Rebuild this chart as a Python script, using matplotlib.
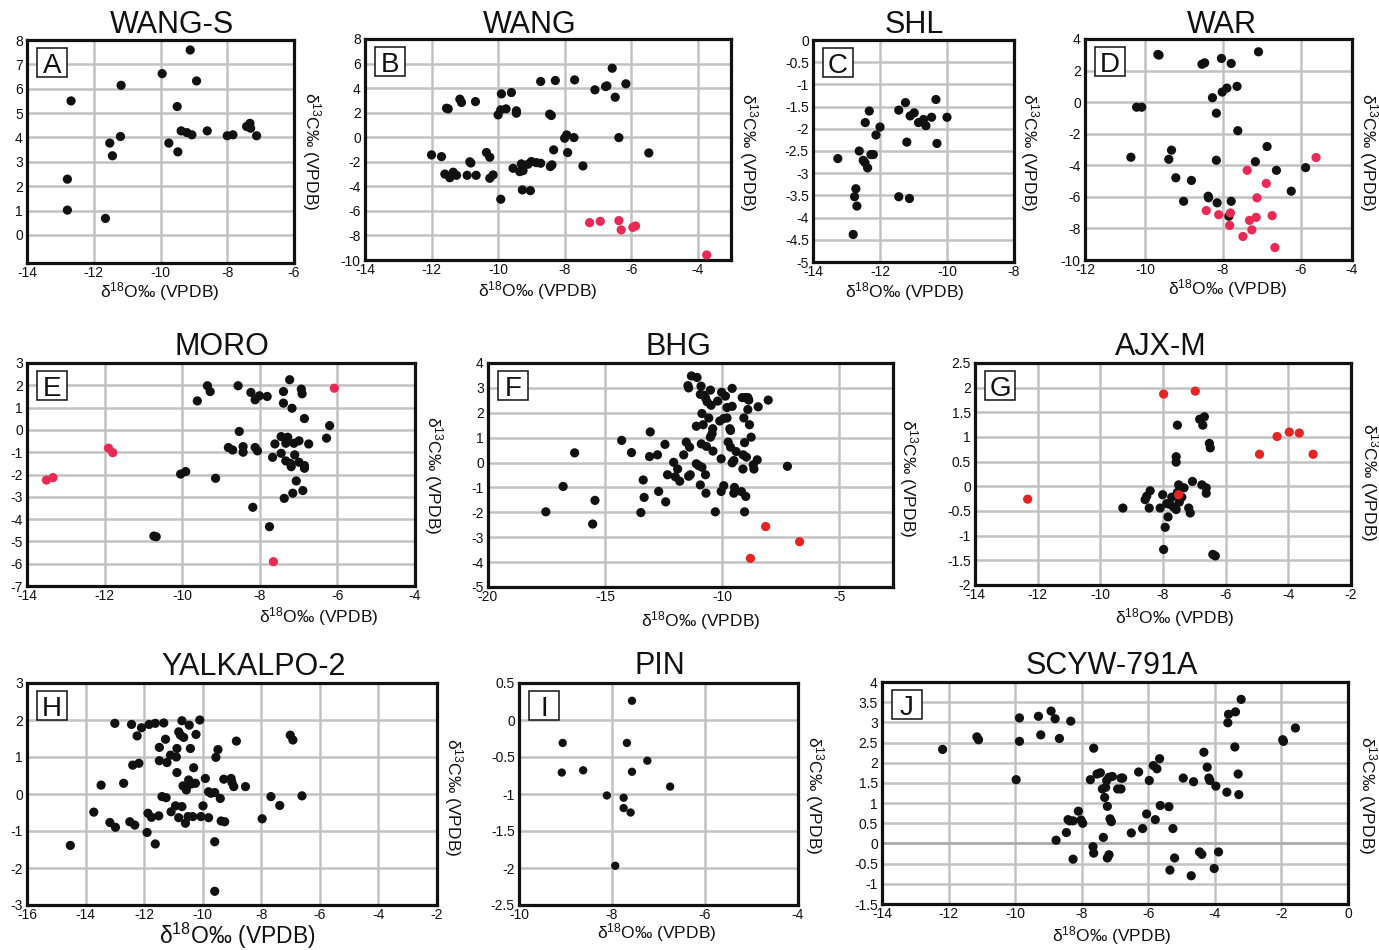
import numpy as np
import matplotlib
matplotlib.use("Agg")
import matplotlib.pyplot as plt
from matplotlib.patches import Rectangle
from matplotlib.ticker import FuncFormatter, NullLocator

plt.rcParams["font.family"] = ["Liberation Sans", "DejaVu Sans"]
plt.rcParams["mathtext.fontset"] = "custom"
plt.rcParams["mathtext.rm"] = "Liberation Sans"
plt.rcParams["mathtext.default"] = "regular"
plt.rcParams["axes.unicode_minus"] = False

# ---------------- data: (d18O, d13C) pairs per site ----------------
a_black = [(-12.68, 5.50), (-12.79, 2.29), (-12.79, 1.02), (-11.65, 0.68), (-11.52, 3.77),
           (-11.44, 3.25), (-11.20, 4.04), (-11.18, 6.14), (-9.95, 6.62), (-9.11, 7.59),
           (-8.92, 6.32), (-9.50, 5.27), (-9.75, 3.77), (-9.48, 3.41), (-9.38, 4.27),
           (-9.21, 4.20), (-9.06, 4.11), (-8.60, 4.27), (-8.00, 4.07), (-7.83, 4.11),
           (-7.42, 4.45), (-7.32, 4.58), (-7.30, 4.38), (-7.12, 4.07)]

b_black = [(-12.00, -1.44), (-11.70, -1.58), (-11.55, 2.36), (-11.50, 2.31), (-11.60, -3.00),
           (-11.45, -3.30), (-11.35, -2.85), (-11.25, -3.10), (-11.15, 3.10), (-11.10, 2.83),
           (-10.68, 2.90), (-10.93, -3.10), (-10.66, -3.10), (-10.85, -2.00), (-10.82, -2.10),
           (-10.35, -1.25), (-10.25, -1.63), (-10.25, -3.34), (-10.15, -3.07), (-10.00, 1.82),
           (-9.92, 2.23), (-9.90, 3.53), (-9.76, 2.31), (-9.60, 3.64), (-9.55, -2.53),
           (-9.45, 2.15), (-9.45, 1.96), (-9.35, -2.80), (-9.30, -2.17), (-9.25, -2.72),
           (-9.27, -4.29), (-9.03, -4.35), (-9.92, -5.05), (-9.10, -2.20), (-9.00, -1.98),
           (-8.85, -2.07), (-8.72, -2.12), (-8.72, 4.54), (-8.45, 1.88), (-8.40, 1.77),
           (-8.43, -2.39), (-8.38, -2.25), (-8.28, 4.62), (-8.33, -1.03), (-8.00, -0.08),
           (-7.94, 0.19), (-7.91, -1.25), (-7.70, 4.67), (-7.72, -0.03), (-7.45, -2.34),
           (-7.09, 3.86), (-6.77, 4.13), (-6.73, 4.18), (-6.57, 5.62), (-6.48, 3.26),
           (-6.37, -0.03), (-6.16, 4.35), (-5.47, -1.28)]
b_red = [(-7.25, -6.96), (-6.93, -6.85), (-6.37, -6.79), (-6.30, -7.55), (-5.95, -7.34),
         (-5.87, -7.23), (-3.73, -9.59)]

c_black = [(-13.26, -2.67), (-12.62, -2.50), (-12.50, -2.71), (-12.45, -2.76), (-12.37, -2.88),
           (-12.32, -1.60), (-12.44, -1.86), (-12.27, -2.58), (-12.20, -2.58), (-12.12, -2.14),
           (-12.00, -1.96), (-12.72, -3.35), (-12.76, -3.53), (-12.69, -3.74), (-12.80, -4.38),
           (-11.44, -1.58), (-11.24, -1.41), (-11.20, -2.30), (-11.44, -3.53), (-11.12, -3.57),
           (-11.10, -1.71), (-10.98, -1.64), (-10.85, -1.86), (-10.70, -1.79), (-10.63, -1.93),
           (-10.46, -1.74), (-10.33, -1.34), (-10.30, -2.33), (-10.00, -1.74)]

d_black = [(-9.67, 3.02), (-9.64, 2.98), (-10.47, -3.49), (-10.28, -0.32), (-10.11, -0.32),
           (-9.32, -3.04), (-9.39, -3.62), (-9.21, -4.79), (-9.01, -6.28), (-8.81, -4.96),
           (-8.54, 2.40), (-8.47, 2.49), (-8.38, -5.96), (-8.37, -6.06), (-8.27, 0.28),
           (-8.17, -0.70), (-8.17, -3.68), (-8.15, -6.38), (-8.04, 2.77), (-8.02, 0.64),
           (-7.90, 0.89), (-7.85, -7.23), (-7.79, 2.45), (-7.79, -6.28), (-7.64, 1.00),
           (-7.62, -1.81), (-7.17, -3.77), (-7.09, 3.19), (-6.87, -2.81), (-6.63, -4.32),
           (-6.25, -5.64), (-5.82, -4.15)]
d_red = [(-8.43, -6.87), (-8.11, -7.13), (-7.81, -7.02), (-7.83, -7.81), (-7.49, -8.51),
         (-7.38, -4.32), (-7.32, -7.49), (-7.26, -8.09), (-7.13, -6.06), (-7.15, -7.30),
         (-6.89, -5.15), (-6.74, -7.19), (-6.67, -9.21), (-5.41, -3.51)]

e_black = [(-9.61, 1.30), (-9.35, 1.98), (-9.28, 1.72), (-8.56, 1.98), (-8.53, -0.07),
           (-8.81, -0.79), (-8.70, -0.90), (-8.43, -0.75), (-8.43, -1.00), (-8.23, 1.68),
           (-8.12, 1.35), (-8.01, 1.53), (-8.12, -0.79), (-8.06, -0.94), (-7.81, 1.50),
           (-8.18, -3.47), (-7.75, -4.34), (-10.04, -1.98), (-9.91, -1.87), (-9.14, -2.17),
           (-10.73, -4.76), (-10.67, -4.79), (-7.67, -1.23), (-7.61, -0.63), (-7.45, -0.30),
           (-7.45, -1.05), (-7.39, 1.72), (-7.39, 1.20), (-7.37, -3.07), (-7.33, -0.60),
           (-7.33, -1.39), (-7.28, -0.33), (-7.23, 2.25), (-7.21, -1.50), (-7.19, -1.65),
           (-7.17, 0.97), (-7.15, -2.84), (-7.12, -0.60), (-7.10, -1.12), (-7.06, -2.29),
           (-6.99, -0.49), (-6.99, -1.45), (-6.93, 1.83), (-6.91, 1.62), (-6.89, -2.72),
           (-6.85, -1.60), (-6.85, -1.72), (-6.85, 0.51), (-6.74, -0.63), (-6.28, -0.37),
           (-6.20, 0.19)]
e_red = [(-13.50, -2.25), (-13.33, -2.14), (-11.90, -0.82), (-11.79, -1.02), (-6.08, 1.87),
         (-7.65, -5.91)]

f_black = [(-17.53, -1.98), (-16.79, -0.96), (-16.30, 0.39), (-15.43, -1.52), (-15.53, -2.47),
           (-14.29, 0.89), (-13.87, 0.40), (-13.07, 1.23), (-13.10, 0.24), (-12.76, 0.31),
           (-13.37, -0.70), (-13.33, -1.40), (-13.47, -2.01), (-12.71, -1.16), (-12.41, -1.58),
           (-12.44, 0.73), (-12.07, 0.01), (-11.90, -0.26), (-12.33, -0.49), (-12.00, -0.57),
           (-11.81, -0.75), (-11.64, 0.31), (-11.53, 0.82), (-11.39, 0.62), (-11.43, -0.55),
           (-11.36, -0.49), (-11.46, 3.09), (-11.43, 3.00), (-11.31, 3.48), (-11.07, 3.42),
           (-11.10, 1.46), (-11.10, -0.05), (-11.00, -0.12), (-10.90, 3.07), (-10.93, 2.74),
           (-10.79, 2.71), (-10.86, 1.97), (-10.81, 1.52), (-10.89, 0.75), (-10.86, -0.19),
           (-10.93, -0.90), (-10.71, 2.60), (-10.64, 2.44), (-10.67, 0.65), (-10.71, -0.49),
           (-10.69, -1.23), (-10.57, 1.79), (-10.50, 2.91), (-10.47, 2.30), (-10.50, 1.02),
           (-10.43, 1.16), (-10.40, 1.36), (-10.39, 0.46), (-10.29, -1.98), (-10.19, 2.47),
           (-10.10, 1.67), (-10.04, 0.15), (-10.02, 2.82), (-10.04, -1.16), (-9.93, 1.77),
           (-9.86, 2.67), (-9.93, -0.93), (-9.79, 1.79), (-9.79, 2.21), (-9.67, 1.36),
           (-9.64, 1.29), (-9.74, 0.82), (-9.64, 0.62), (-9.57, 2.26), (-9.57, -0.01),
           (-9.57, 2.98), (-9.50, 0.08), (-9.47, -1.00), (-9.50, -1.23), (-9.40, 0.44),
           (-9.14, 2.61), (-9.07, 1.79), (-9.10, 0.31), (-9.11, -0.26), (-9.17, -1.17),
           (-9.04, 0.80), (-9.00, 2.61), (-8.96, 0.22), (-8.99, -1.36), (-9.04, -1.98),
           (-8.90, 2.61), (-8.86, 2.51), (-8.90, 2.13), (-8.83, 1.52), (-8.76, 1.02),
           (-8.67, -0.09), (-8.64, -0.26), (-8.50, 0.11), (-8.46, 2.24), (-8.03, 2.51),
           (-7.21, -0.15)]
f_red = [(-8.14, -2.57), (-6.69, -3.18), (-8.79, -3.85)]

g_black = [(-9.28, -0.44), (-8.57, -0.27), (-8.52, -0.20), (-8.41, -0.09), (-8.44, -0.44),
           (-8.09, -0.44), (-8.01, -0.17), (-7.93, -0.83), (-7.98, -1.28), (-7.84, -0.62),
           (-7.88, -0.35), (-7.77, -0.37), (-7.72, -0.22), (-7.66, -0.42), (-7.58, -0.47),
           (-7.58, 0.60), (-7.58, 0.49), (-7.54, 1.24), (-7.50, 0.03), (-7.54, -0.12),
           (-7.48, -0.32), (-7.40, -0.22), (-7.33, -0.03), (-7.18, -0.44), (-7.13, -0.54),
           (-7.06, 0.10), (-6.83, 1.36), (-6.76, 0.03), (-6.73, 1.24), (-6.68, 1.41),
           (-6.62, -0.03), (-6.62, -0.14), (-6.52, 0.87), (-6.49, 0.78), (-6.41, -1.38),
           (-6.33, -1.41)]
g_red = [(-12.32, -0.26), (-7.98, 1.87), (-6.97, 1.93), (-7.50, -0.17), (-4.92, 0.65),
         (-4.36, 1.01), (-3.97, 1.10), (-3.65, 1.08), (-3.21, 0.65)]

h_black = [(-14.52, -1.39), (-13.72, -0.49), (-13.47, 0.24), (-13.17, -0.77), (-12.98, -0.90),
           (-13.00, 1.91), (-12.70, 0.29), (-12.43, 1.88), (-12.49, -0.75), (-12.39, 0.78),
           (-12.32, -0.84), (-12.24, 1.57), (-12.18, 0.83), (-12.09, 1.79), (-11.90, -1.04),
           (-11.87, -0.52), (-11.83, 1.88), (-11.75, -0.63), (-11.62, -1.35), (-11.62, 1.91),
           (-11.50, -0.59), (-11.48, 1.26), (-11.48, 0.90), (-11.39, -0.07), (-11.33, 1.92),
           (-11.27, 1.48), (-11.25, -0.10), (-11.22, 0.85), (-11.10, 1.05), (-11.08, -0.48),
           (-10.93, -0.32), (-10.90, 1.00), (-10.88, 0.58), (-10.88, 1.23), (-10.82, 1.68),
           (-10.82, -0.64), (-10.76, 1.59), (-10.71, -0.34), (-10.71, 1.98), (-10.67, 0.22),
           (-10.65, 1.53), (-10.59, -0.79), (-10.56, 0.11), (-10.50, -0.61), (-10.48, 0.38),
           (-10.46, 1.86), (-10.42, 1.23), (-10.39, 0.27), (-10.34, -0.61), (-10.31, 0.71),
           (-10.25, 0.29), (-10.23, 1.61), (-10.10, 2.00), (-10.06, -0.61), (-9.99, -0.32),
           (-9.91, 0.42), (-9.80, 0.06), (-9.80, -0.64), (-9.72, 0.02), (-9.59, -1.29),
           (-9.59, 0.04), (-9.59, -2.63), (-9.55, 0.99), (-9.48, 1.20), (-9.40, -0.12),
           (-9.37, -0.73), (-9.25, -0.75), (-9.28, 0.40), (-9.03, 0.42), (-9.00, 0.31),
           (-8.94, 0.20), (-8.85, 1.43), (-8.54, 0.20), (-7.97, -0.67), (-7.67, -0.07),
           (-7.37, -0.31), (-7.01, 1.59), (-6.92, 1.46), (-6.61, -0.05)]

i_black = [(-9.06, -0.31), (-9.08, -0.71), (-8.62, -0.68), (-8.11, -1.02), (-7.68, -0.31),
           (-7.57, 0.26), (-7.75, -1.05), (-7.75, -1.19), (-7.60, -1.25), (-7.57, -0.70),
           (-7.24, -0.55), (-6.75, -0.90), (-7.93, -1.97)]

j_black = [(-12.18, 2.33), (-11.15, 2.64), (-11.10, 2.57), (-9.97, 1.58), (-9.87, 3.11),
           (-9.87, 2.53), (-9.30, 3.15), (-9.23, 2.69), (-8.92, 3.28), (-8.80, 3.09),
           (-8.67, 2.60), (-8.33, 3.03), (-8.77, 0.08), (-8.46, 0.27), (-8.41, 0.59),
           (-8.36, 0.56), (-8.26, 0.56), (-8.26, -0.39), (-8.10, 0.80), (-8.02, 0.58),
           (-7.97, 0.50), (-7.74, 1.58), (-7.64, 2.36), (-7.66, -0.08), (-7.64, -0.24),
           (-7.54, 1.72), (-7.44, 1.75), (-7.38, 1.35), (-7.35, 0.15), (-7.31, 1.14),
           (-7.28, 1.39), (-7.25, 1.56), (-7.23, 0.92), (-7.23, -0.36), (-7.18, 1.64),
           (-7.18, -0.28), (-7.15, 0.61), (-7.11, 0.54), (-7.08, 1.66), (-6.92, 1.35),
           (-6.82, 1.35), (-6.82, 1.62), (-6.77, 1.62), (-6.51, 0.26), (-6.29, 1.77),
           (-6.17, 0.37), (-6.05, 0.73), (-5.97, 1.56), (-5.85, 1.93), (-5.79, 0.59),
           (-5.74, 1.85), (-5.66, 2.10), (-5.64, 0.94), (-5.38, 0.91), (-5.35, -0.66),
           (-5.26, 0.37), (-5.21, -0.36), (-4.95, 1.62), (-4.71, -0.80), (-4.64, 1.53),
           (-4.46, -0.21), (-4.39, -0.27), (-4.33, 2.26), (-4.23, 1.89), (-4.18, 1.62),
           (-4.15, 1.56), (-4.02, -0.62), (-3.97, 1.42), (-3.89, -0.21), (-3.64, 1.27),
           (-3.61, 2.99), (-3.59, 3.20), (-3.38, 3.26), (-3.40, 2.39), (-3.30, 1.72),
           (-3.28, 1.21), (-3.21, 3.57), (-1.96, 2.57), (-1.94, 2.53), (-1.58, 2.86)]

site_names = ["WANG-S", "WANG", "SHL", "WAR", "MORO", "BHG", "AJX-M", "YALKALPO-2", "PIN", "SCYW-791A"]
panel_letters = ["A", "B", "C", "D", "E", "F", "G", "H", "I", "J"]

# ---------------- layout ----------------
W, H = 1379, 950
fig = plt.figure(figsize=(W / 100, H / 100), dpi=100)

BLACK = "#111111"
PINK = "#ea2a55"
RED = "#e52424"
GRID = "#c2c2c2"
XLAB = "δ$^{18}$O‰ (VPDB)"
YLAB = "δ$^{13}$C‰ (VPDB)"


def frac_rect(l, t, r, b):
    return [l / W, 1 - b / H, (r - l) / W, (b - t) / H]


def ftext(x, y, s, **kw):
    fig.text(x / W, 1 - y / H, s, **kw)


fmt = FuncFormatter(lambda v, p: "%g" % (0 if abs(v) < 1e-9 else v))

# piecewise x scale used by the WAR panel (edge labels sit at the frame)
d_knots = [-12, -10, -6, -4]
d_pix = [0, 60, 216, 267]


def d_fwd(x):
    return np.interp(x, d_knots, d_pix)


def d_inv(p):
    return np.interp(p, d_pix, d_knots)


panels = [
    # frame (l, t, r, b), limits, ticks, series, title(x, baseline), xlabel(x, y, size), ylabel(x, y)
    dict(frame=(27, 40, 294, 263), xlim=(-14, -6), ylim=(-1.15, 8),
         xt=np.arange(-14, -5, 2), yt=np.arange(0, 9, 1),
         series=[(a_black, BLACK)], title=(172, 33), xl=(160, 292, 12.5), yl=(311, 151)),
    dict(frame=(365, 39, 731, 260), xlim=(-14, -3), ylim=(-10, 8),
         xt=np.arange(-14, -3, 2), yt=np.arange(-10, 9, 2),
         series=[(b_black, BLACK), (b_red, PINK)], title=(530, 33), xl=(538, 291, 12.5), yl=(748, 152)),
    dict(frame=(813, 40, 1014, 262), xlim=(-14, -8), ylim=(-5, 0),
         xt=np.arange(-14, -7, 2), yt=np.arange(-5, 0.01, 0.5),
         series=[(c_black, BLACK)], title=(914, 33), xl=(905, 292, 12.5), yl=(1029, 152)),
    dict(frame=(1085, 39, 1352, 260), xlim=(-12, -4), ylim=(-10, 4),
         xt=np.arange(-12, -3, 2), yt=np.arange(-10, 5, 2), piecewise=True,
         series=[(d_black, BLACK), (d_red, PINK)], title=(1222, 33), xl=(1228, 289, 12.5), yl=(1368, 152)),
    dict(frame=(27, 363, 415, 586), xlim=(-14, -4), ylim=(-7, 3),
         xt=np.arange(-14, -3, 2), yt=np.arange(-7, 4, 1),
         series=[(e_black, BLACK), (e_red, PINK)], title=(222, 355), xl=(319, 617, 12.5), yl=(433, 475)),
    dict(frame=(488, 363, 893, 587), xlim=(-20, -2.7), ylim=(-5, 4),
         xt=[-20, -15, -10, -5], yt=np.arange(-5, 5, 1),
         series=[(f_black, BLACK), (f_red, RED)], title=(678, 355), xl=(701, 621, 12.5), yl=(908, 478)),
    dict(frame=(975, 363, 1351, 585), xlim=(-14, -2), ylim=(-2, 2.5),
         xt=np.arange(-14, -1, 2), yt=np.arange(-2, 2.51, 0.5),
         series=[(g_black, BLACK), (g_red, RED)], title=(1161, 355), xl=(1175, 618, 12.5), yl=(1369, 482)),
    dict(frame=(27, 683, 437, 905), xlim=(-16, -2), ylim=(-3, 3),
         xt=np.arange(-16, -1, 2), yt=np.arange(-3, 4, 1),
         series=[(h_black, BLACK)], title=(254, 675), xl=(237, 936, 16.5), yl=(453, 797)),
    dict(frame=(519, 683, 798, 905), xlim=(-10, -4), ylim=(-2.5, 0.5),
         xt=np.arange(-10, -3, 2), yt=np.arange(-2.5, 0.51, 0.5), size=36,
         series=[(i_black, BLACK)], title=(660, 674), xl=(657, 933, 12.5), yl=(814, 795)),
    dict(frame=(882, 682, 1348, 904), xlim=(-14, 0), ylim=(-1.5, 4),
         xt=np.arange(-14, 1, 2), yt=np.arange(-1.5, 4.01, 0.5), zero_line=True,
         series=[(j_black, BLACK)], title=(1112, 674), xl=(1112, 936, 12.5), yl=(1367, 795)),
]

for k, p in enumerate(panels):
    l, t, r, b = p["frame"]
    ax = fig.add_axes(frac_rect(l, t, r, b))
    if p.get("piecewise"):
        ax.set_xscale("function", functions=(d_fwd, d_inv))
    ax.set_xlim(*p["xlim"])
    ax.set_ylim(*p["ylim"])
    ax.set_xticks(p["xt"])
    ax.set_yticks(p["yt"])
    ax.xaxis.set_major_formatter(fmt)
    ax.yaxis.set_major_formatter(fmt)
    ax.xaxis.set_minor_locator(NullLocator())
    ax.tick_params(length=0, labelsize=10, colors="#111111")
    ax.tick_params(axis="x", pad=2.5)
    ax.tick_params(axis="y", pad=3)
    ax.set_axisbelow(True)
    ax.grid(True, color=GRID, lw=1.8)
    if p.get("zero_line"):
        ax.axhline(0, color="#a9a9a9", lw=1.8, zorder=1)
    for s in ax.spines.values():
        s.set_linewidth(2.3)
        s.set_color("#111111")
    for pts, col in p["series"]:
        arr = np.asarray(pts)
        ax.scatter(arr[:, 0], arr[:, 1], s=p.get("size", 44), c=col,
                   edgecolors="none", zorder=3)

    # title and axis labels
    tx, ty = p["title"]
    ftext(tx, ty, site_names[k], fontsize=22, ha="center", va="baseline", color="#111111")
    xx, xy, xs = p["xl"]
    ftext(xx, xy, XLAB, fontsize=xs, ha="center", va="center", color="#111111")
    yx, yy = p["yl"]
    ftext(yx, yy, YLAB, fontsize=12.5, ha="center", va="center", rotation=270, color="#111111")

    # boxed panel letter
    bl, bt = l + 10, t + 8
    fig.add_artist(Rectangle((bl / W, 1 - (bt + 29) / H), 30 / W, 29 / H,
                             transform=fig.transFigure, facecolor="white",
                             edgecolor="#111111", lw=1.1, zorder=5))
    ftext(bl + 15, bt + 15, panel_letters[k], fontsize=20, ha="center",
          va="center_baseline", color="#111111", zorder=6)

fig.savefig("out.png", dpi=100, facecolor="white")
